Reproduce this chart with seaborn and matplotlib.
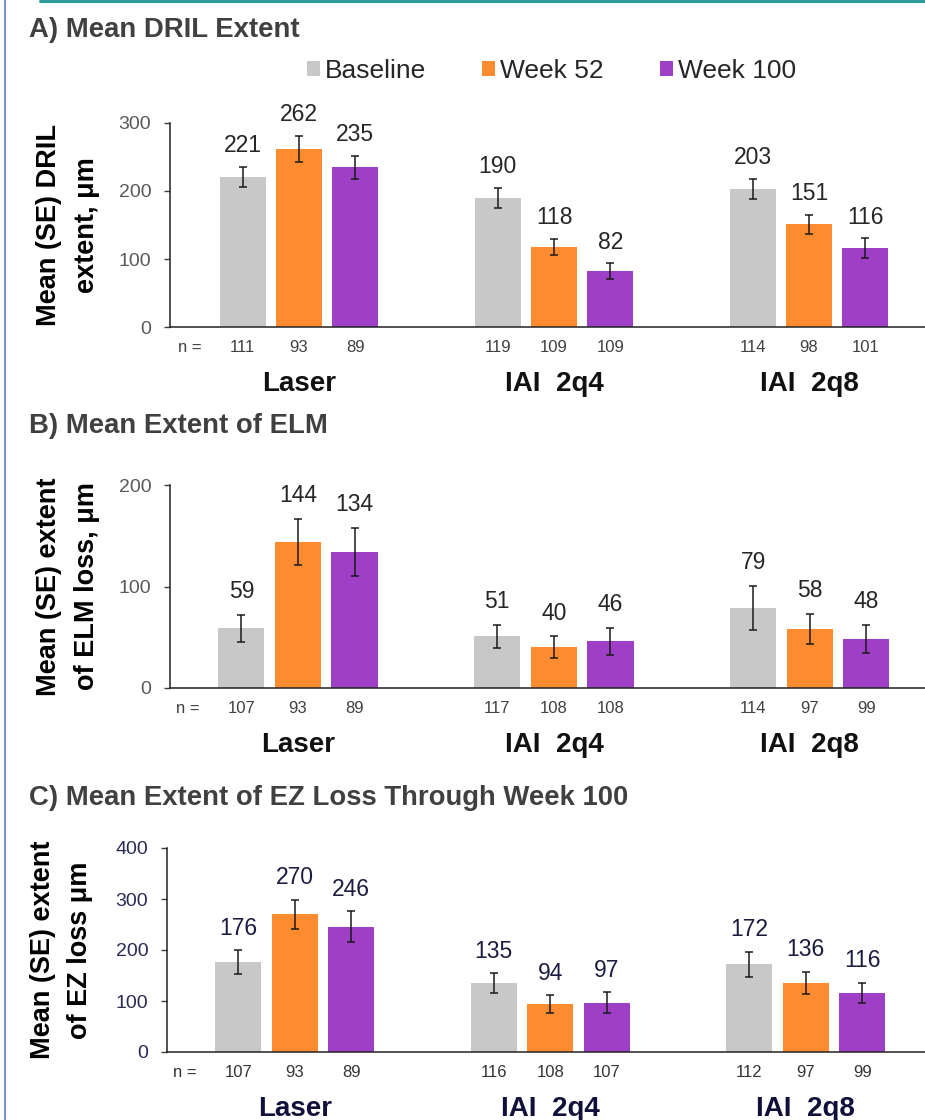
import matplotlib
matplotlib.use("Agg")
import numpy as np
import pandas as pd
import seaborn as sns
import matplotlib.pyplot as plt
from matplotlib.transforms import blended_transform_factory
from matplotlib.lines import Line2D

# ---------------- data ----------------
groups = ["Laser", "IAI  2q4", "IAI  2q8"]
visits = ["Baseline", "Week 52", "Week 100"]

# per visit (rows) x group (columns)
dril_means = [[221, 190, 203], [262, 118, 151], [235, 82, 116]]
dril_se = [[14.7, 14.4, 15.0], [18.8, 11.5, 14.0], [17.0, 11.5, 14.4]]
dril_n = [[111, 119, 114], [93, 109, 98], [89, 109, 101]]

elm_means = [[59, 51, 79], [144, 40, 58], [134, 46, 48]]
elm_se = [[13.3, 11.5, 21.7], [22.7, 10.8, 15.0], [24.0, 13.3, 14.0]]
elm_n = [[107, 117, 114], [93, 108, 97], [89, 108, 99]]

ez_means = [[176, 135, 172], [270, 94, 136], [246, 97, 116]]
ez_se = [[24.0, 20.0, 25.0], [28.8, 18.0, 21.6], [30.7, 20.0, 20.0]]
ez_n = [[107, 116, 112], [93, 108, 97], [89, 107, 99]]

titles = ["A) Mean DRIL Extent", "B) Mean Extent of ELM",
          "C) Mean Extent of EZ Loss Through Week 100"]
ylabels = ["Mean (SE) DRIL\nextent, μm", "Mean (SE) extent\nof ELM loss, μm",
           "Mean (SE) extent\nof EZ loss μm"]
yticks_list = [[0, 100, 200, 300], [0, 100, 200], [0, 100, 200, 300, 400]]

palette = {"Baseline": "#c8c8c8", "Week 52": "#fd8c30", "Week 100": "#9e3fc6"}

# ---------------- style ----------------
sns.set_style("white")
plt.rcParams["font.family"] = ["Liberation Sans", "DejaVu Sans"]

W, H = 925, 1120
fig = plt.figure(figsize=(W / 100, H / 100), dpi=100)

def fx(px):
    return px / W

def fy(py):
    return 1 - py / H

panels = [
    dict(means=dril_means, se=dril_se, n=dril_n, rect=(170, 123, 327), ylim=300,
         xlim=(-0.506, 2.455), title_y=37, lab_off=10.5, navy=False, ylab_x=68),
    dict(means=elm_means, se=elm_se, n=elm_n, rect=(170, 485, 688), ylim=200,
         xlim=(-0.50, 2.45), title_y=433, lab_off=12.0, navy=False, ylab_x=68),
    dict(means=ez_means, se=ez_se, n=ez_n, rect=(167, 848, 1052), ylim=400,
         xlim=(-0.50, 2.467), title_y=805, lab_off=11.0, navy=True, ylab_x=62),
]

for i, p in enumerate(panels):
    left, top, bottom = p["rect"]
    ax = fig.add_axes([fx(left), fy(bottom), fx(W - left), (bottom - top) / H])

    rows = []
    for vi, v in enumerate(visits):
        for gi, g in enumerate(groups):
            rows.append(dict(group=g, visit=v, value=p["means"][vi][gi]))
    df = pd.DataFrame(rows)

    sns.barplot(data=df, x="group", y="value", hue="visit", order=groups,
                hue_order=visits, palette=palette, width=0.663, gap=0.185,
                errorbar=None, ax=ax, legend=(i == 0), saturation=1,
                edgecolor="none", linewidth=0)

    value_color = "#1c1c40" if p["navy"] else "#262626"
    tick_color = "#2a2a55" if p["navy"] else "#595959"
    group_color = "#10103a" if p["navy"] else "#111111"
    n_color = "#333333" if p["navy"] else "#404040"

    trans = blended_transform_factory(ax.transData, ax.transAxes)
    bar_conts = list(ax.containers)
    for vi, cont in enumerate(bar_conts):
        xs = [b.get_x() + b.get_width() / 2 for b in cont]
        ys = p["means"][vi]
        es = p["se"][vi]
        ax.errorbar(xs, ys, yerr=es, fmt="none", ecolor="#1a1a1a",
                    elinewidth=1.1, capsize=3.2, capthick=1.1, zorder=5)
        for x, y, e, nn in zip(xs, ys, es, p["n"][vi]):
            ax.annotate(f"{y}", xy=(x, y + e), xytext=(0, p["lab_off"]),
                        textcoords="offset points", ha="center", va="baseline",
                        fontsize=16.5, color=value_color)
            ax.annotate(f"{nn}", xy=(x, 0), xycoords=trans, xytext=(0, -14.5),
                        textcoords="offset points", ha="center", va="center",
                        fontsize=12, color=n_color)

    ax.annotate("n =", xy=(-0.43, 0), xycoords=trans, xytext=(0, -14.5),
                textcoords="offset points", ha="center", va="center",
                fontsize=12, color=n_color)
    for gi, g in enumerate(groups):
        ax.annotate(g, xy=(gi, 0), xycoords=trans, xytext=(0, -46),
                    textcoords="offset points", ha="center", va="baseline",
                    fontsize=20, fontweight="bold", color=group_color)

    ax.set_xlim(*p["xlim"])
    ax.set_ylim(0, p["ylim"])
    ax.set_yticks(yticks_list[i])
    ax.set_xticks([])
    ax.set_xlabel("")
    ax.set_ylabel(ylabels[i], fontsize=19.5, fontweight="bold", color="#000000",
                  linespacing=1.55, va="center")
    ax.yaxis.set_label_coords((p["ylab_x"] - left) / (W - left), 0.5)
    ax.tick_params(axis="y", direction="out", length=4.5, width=1, color="#404040",
                   labelsize=14, labelcolor=tick_color, pad=9, left=True)
    for s in ["top", "right"]:
        ax.spines[s].set_visible(False)
    for s in ["left", "bottom"]:
        ax.spines[s].set_color("#222222")
        ax.spines[s].set_linewidth(1.1)
    ax.set_facecolor("none")

    fig.text(fx(29), fy(p["title_y"]), titles[i], fontsize=19.8, fontweight="bold",
             color="#404040", ha="left", va="baseline")

    if i == 0:
        sns.move_legend(ax, "center", bbox_to_anchor=(fx(551.5), fy(71)),
                        bbox_transform=fig.transFigure, ncol=3, title=None,
                        frameon=False, fontsize=19, handlelength=0.5,
                        handleheight=0.5, handletextpad=0.2, columnspacing=2.1)

# decorative frame lines
fig.add_artist(Line2D([fx(5), fx(5)], [0, 1], transform=fig.transFigure,
                      color="#5b7fc7", lw=1.2))
fig.add_artist(Line2D([fx(40), 1], [fy(1.2), fy(1.2)], transform=fig.transFigure,
                      color="#2e9c9c", lw=2.2))

fig.savefig("out.png", dpi=100)
